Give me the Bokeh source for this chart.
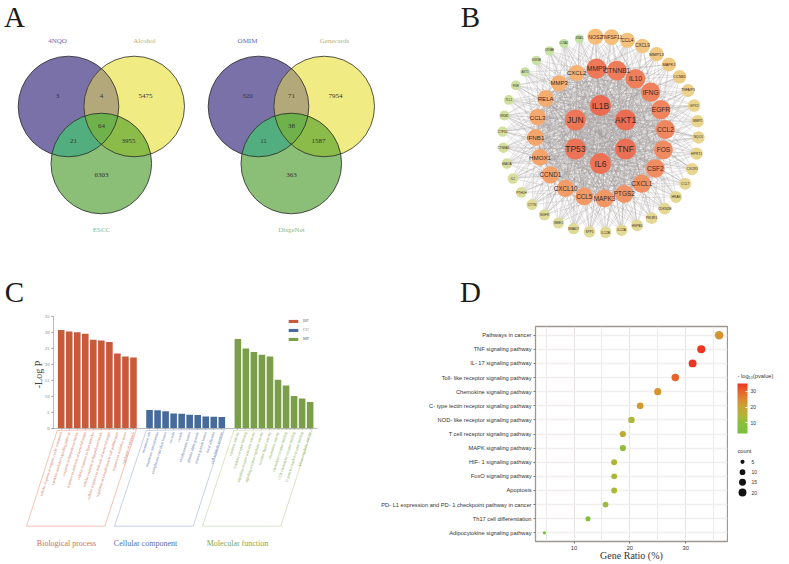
import math
from bokeh.plotting import figure
from bokeh.layouts import column, row
from bokeh.embed import file_html
from bokeh.resources import INLINE
from bokeh.core.properties import value, field
from bokeh.models import (Range1d, FactorRange, LinearAxis, FixedTicker, Legend, LegendItem,
                          ColorBar, LinearColorMapper, ColumnDataSource)
from bokeh.transform import transform

# ---------- Panel A data ----------
venn_left_sets = ["4NQO", "Alcohol", "ESCC"]
venn_left_counts = [3, 4, 5475, 64, 21, 3955, 6303]
venn_right_sets = ["OMIM", "Genecards", "DisgeNet"]
venn_right_counts = [320, 71, 7954, 38, 11, 1587, 363]

# ---------- Panel B data (degree-sorted circular layout, clockwise) ----------
net_inner = ["IL1B", "AKT1", "TNF", "IL6", "TP53", "JUN"]
net_middle = ["MMP9", "CTNNB1", "IL10", "IFNG", "EGFR", "CCL2", "FOS", "CSF2", "CXCL1", "PTGS2",
              "MAPK3", "CCL5", "CXCL10", "CCND1", "HMOX1", "IFNB1", "CCL3", "RELA", "MMP3", "CXCL2"]
net_outer = ["NOS2", "TNFSF11", "CCL4", "CXCL9", "MMP13", "MAPK1", "CCNB1", "TNFAIP3", "GPX2", "MMP2",
             "NQO1", "HPRT1", "CXCR3", "CCL7", "HRAS", "CDKN2B", "PIK3R1", "HSPB1", "IL12A", "IL12B",
             "SPP1", "SMAD7", "WEE1", "NGFR", "CTTN", "PTHLH", "IL2", "MAOA", "CTNNA1", "CTPS1",
             "RRM2", "TLL1", "PGR", "AKT3", "GSK3B", "CRYAB", "CCNA2", "SNAI1"]

# ---------- Panel C data ----------
bp_terms = ["cellular response to organic cyclic compound", "cytokine-mediated signaling pathway",
            "response to lipopolysaccharide", "response to molecule of bacterial origin",
            "cellular response to lipid stimulus", "cellular response to lipopolysaccharide",
            "cellular response to molecule of bacterial origin", "regulation of smooth muscle cell proliferation",
            "response to oxidative stress", "regulation of apoptosis"]
bp_values = [30.8, 30.3, 30.1, 29.6, 27.7, 27.5, 27.0, 23.4, 22.5, 22.2]
cc_terms = ["membrane raft", "membrane microdomain", "endoplasmic reticulum lumen", "caveola", "vesicle",
            "endolysosome lumen", "platelet alpha granule", "tertiary granule lumen", "focal adhesion",
            "cell-substrate junction"]
cc_values = [5.7, 5.6, 5.3, 4.6, 4.5, 4.2, 4.1, 3.7, 3.6, 3.5]
mf_terms = ["cytokine activity", "cytokine receptor binding", "signaling receptor activator activity",
            "signaling receptor regulator activity", "receptor ligand activity", "chemokine activity",
            "chemokine receptor binding", "CCR chemokine receptor binding", "G protein-coupled receptor binding",
            "kinase regulator activity"]
mf_values = [28.0, 25.0, 23.9, 23.0, 22.5, 15.2, 13.4, 10.1, 9.3, 8.2]
c_ticks = [0, 5, 10, 15, 20, 25, 30, 35]

# ---------- Panel D data ----------
pathways = ["Pathways in cancer", "TNF signaling pathway", "IL- 17 signaling pathway",
            "Toll- like receptor signaling pathway", "Chemokine signaling pathway",
            "C- type lectin receptor signaling pathway", "NOD- like receptor signaling pathway",
            "T cell receptor signaling pathway", "MAPK signaling pathway", "HIF- 1 signaling pathway",
            "FoxO signaling pathway", "Apoptosis", "PD- L1 expression and PD- 1 checkpoint pathway in cancer",
            "Th17 cell differentiation", "Adipocytokine signaling pathway"]
gene_ratio = [36.0, 32.8, 31.25, 28.15, 25.0, 21.85, 20.3, 18.75, 18.75, 17.2, 17.2, 17.2, 15.65, 12.5, 4.7]
gene_count = [23, 21, 20, 18, 16, 14, 13, 12, 12, 11, 11, 11, 10, 8, 3]
neg_log_p = [23, 35, 35, 30, 23, 22, 14, 18, 11, 15, 14, 14, 12, 7, 4]
count_legend = [5, 10, 15, 20]
pvalue_ticks = [10, 20, 30]

SERIF = "Liberation Serif"
SANS = "Liberation Sans"
SPLIT = 310


def blank(w, h, xr, yr):
    p = figure(width=w, height=h, x_range=Range1d(*xr), y_range=Range1d(*yr), x_axis_type=None, y_axis_type=None,
               output_backend="svg", toolbar_location=None, min_border=0, outline_line_color=None,
               background_fill_color="white", border_fill_color="white", frame_align=False)
    p.grid.visible = False
    return p


def letter(p, s, x, y):
    p.text(x=[x], y=[y], text=[s], text_font=value(SERIF), text_font_size="29px", text_color="#1a1a1a",
           text_align="center", text_baseline="middle")


def lerp_hex(stops, t):
    for (t0, c0), (t1, c1) in zip(stops, stops[1:]):
        if t <= t1:
            f = (t - t0) / (t1 - t0) if t1 > t0 else 0
            a = [int(c0[i:i + 2], 16) for i in (1, 3, 5)]
            b = [int(c1[i:i + 2], 16) for i in (1, 3, 5)]
            return "#%02x%02x%02x" % tuple(round(u + (v - u) * f) for u, v in zip(a, b))
    return stops[-1][1]


def lerp_num(stops, t):
    for (t0, v0), (t1, v1) in zip(stops, stops[1:]):
        if t <= t1:
            return v0 + (v1 - v0) * (t - t0) / (t1 - t0)
    return stops[-1][1]


# ========== A ==========
pA = blank(400, SPLIT, (0, 400), (SPLIT, 0))


def region(circles):
    pts = []
    for i, (cx, cy, r) in enumerate(circles):
        for k in range(1440):
            a = 2 * math.pi * k / 1440
            x, y = cx + r * math.cos(a), cy + r * math.sin(a)
            if all((x - u) ** 2 + (y - v) ** 2 <= w ** 2 + 1e-6 for j, (u, v, w) in enumerate(circles) if j != i):
                pts.append((x, y))
    mx = sum(q[0] for q in pts) / len(pts)
    my = sum(q[1] for q in pts) / len(pts)
    pts.sort(key=lambda q: math.atan2(q[1] - my, q[0] - mx))
    return [q[0] for q in pts], [q[1] for q in pts]


def venn(p, dx, names, counts):
    P, Y, G = (68 + dx, 106, 50.3), (133.7 + dx, 106, 50.3), (100.8 + dx, 163, 50.3)
    for c, col in ((P, "#7b71a9"), (Y, "#f0ec83"), (G, "#8bbf78")):
        p.circle(x=[c[0]], y=[c[1]], radius=c[2], fill_color=col, line_color=None)
    for cs, col in (((P, Y), "#b3a879"), ((P, G), "#52ae7e"), ((Y, G), "#8bbb48"), ((P, Y, G), "#6fb24c")):
        xs, ys = region(list(cs))
        p.patch(xs, ys, fill_color=col, line_color=None)
    for c in (P, Y, G):
        p.circle(x=[c[0]], y=[c[1]], radius=c[2], fill_color=None, line_color="#2a2a2a", line_width=0.8)
    tx = [57 + dx, 101 + dx, 145 + dx, 101 + dx, 73 + dx, 128 + dx, 101 + dx]
    ty = [95, 95, 95, 125, 140, 140, 174]
    p.text(x=tx, y=ty, text=[str(v) for v in counts], text_font=value(SERIF), text_font_size="7px",
           text_color="#333333", text_align="center", text_baseline="middle")
    for name, x, y, col in zip(names, (57 + dx, 144 + dx, 101 + dx), (40, 40, 229), ("#6f66a8", "#b5b07a", "#8db87d")):
        p.text(x=[x], y=[y], text=[name], text_font=value(SERIF), text_font_size="7px", text_color=col,
               text_align="center", text_baseline="middle")


venn(pA, 0, venn_left_sets, venn_left_counts)
venn(pA, 190, venn_right_sets, venn_right_counts)
letter(pA, "A", 14, 16)
letter(pA, "C", 14, 291)

# ========== B ==========
pB = blank(389, SPLIT, (400, 789), (SPLIT, 0))
nodes = []
for ring, cy, R, a0, names in ((0, 134, 29, 0, net_inner), (1, 133, 65, -3.5, net_middle), (2, 134, 98, -3, net_outer)):
    step = 360 / len(names)
    for i, n in enumerate(names):
        a = math.radians(a0 + step * i)
        nodes.append((n, 600 + R * math.sin(a), cy - R * math.cos(a), ring, i))
ex0, ey0, ex1, ey1 = [], [], [], []
core = [n for n in nodes if n[3] < 2]
for i, a in enumerate(core):
    for b in core[i + 1:]:
        ex0.append(a[1]); ey0.append(a[2]); ex1.append(b[1]); ey1.append(b[2])
for a in (n for n in nodes if n[3] == 2):
    for j, b in enumerate(core):
        if b[3] == 0 or (a[4] + j) % 3 == 0:
            ex0.append(a[1]); ey0.append(a[2]); ex1.append(b[1]); ey1.append(b[2])
pB.segment(ex0, ey0, ex1, ey1, line_color="#a09898", line_alpha=0.6, line_width=0.45)

colour_stops = [(0, "#ea6a52"), (6, "#ee7858"), (25, "#f5b272"), (26, "#f6bc78"), (34, "#ebd48c"),
                (50, "#dddc9a"), (63, "#c3e3a5")]
size_stops = [(0, 10.5), (5, 10.5), (6, 10), (25, 8), (26, 8), (34, 6.3), (50, 5.5), (63, 4.5)]
font_stops = [(0, 8.5), (5, 8.5), (6, 6.8), (25, 6.0), (26, 5.2), (30, 4.2), (33, 3.4), (50, 3.2), (63, 2.6)]

rank = range(len(nodes))
net_src = ColumnDataSource(dict(
    name=[n[0] for n in nodes], x=[n[1] for n in nodes], y=[n[2] for n in nodes],
    r=[lerp_num(size_stops, t) for t in rank], col=[lerp_hex(colour_stops, t) for t in rank],
    fs=["%.1fpx" % lerp_num(font_stops, t) for t in rank]))
pB.circle(x="x", y="y", radius="r", fill_color="col", line_color=None, source=net_src)
pB.text(x="x", y="y", text="name", text_font=value(SANS), text_font_size=field("fs"), text_color="#3a2a25",
        text_align="center", text_baseline="middle", source=net_src)
letter(pB, "B", 470, 16)
letter(pB, "D", 470, 291)

# ========== C ==========
C_X0, C_DX, C_Y0, C_DY = 60.7, 8.03, 427.7, 3.19


def kx(px):
    return (px - C_X0) / C_DX


def vy(py):
    return (C_Y0 - py) / C_DY


pC = blank(340, 564 - SPLIT, (kx(0), kx(340)), (vy(564), vy(SPLIT)))
groups = (("BP", bp_terms, bp_values, 0, "#c75b39", "#f0ab95", "Biological process", "#d0705a",
           [(26, 525.7), (104.3, 525.7), (136, 428.5), (56.7, 430)], 66),
          ("CC", cc_terms, cc_values, 11, "#456a9e", "#aebce0", "Cellular component", "#5570a8",
           [(114, 525.7), (192.7, 525.7), (224, 428.5), (145.7, 430)], 145),
          ("MF", mf_terms, mf_values, 22, "#7a9e4a", "#cbdaae", "Molecular function", "#80a850",
           [(202, 525.7), (280.3, 525.7), (311.7, 428.5), (233.3, 430)], 237))
items = []
for name, terms, vals, off, col, edge, title, tcol, quad, tx in groups:
    xs = [off + i for i in range(len(vals))]
    r = pC.vbar(x=xs, top=vals, width=0.82, bottom=0, fill_color=col, line_color=None)
    items.append(LegendItem(label=name, renderers=[r]))
    pC.patch([kx(q[0]) for q in quad], [vy(q[1]) for q in quad], fill_color=None, line_color=edge, line_width=0.7)
    pC.text(x=[kx(tx)], y=[vy(543.3)], text=[title], text_font=value(SERIF), text_font_size="8px", text_color=tcol,
            text_align="center", text_baseline="middle")
    ax = LinearAxis(fixed_location=0, ticker=FixedTicker(ticks=xs), bounds=(kx(53), kx(317)) if off == 0 else (xs[0], xs[-1]),
                    major_label_overrides={x: t for x, t in zip(xs, terms)}, major_label_orientation=1.27,
                    major_label_text_font=SERIF, major_label_text_font_size="3.7px", major_label_text_color=tcol,
                    major_label_standoff=3, major_tick_out=1, major_tick_in=0, minor_tick_line_color=None,
                    major_tick_line_color="#999999", axis_line_color="#aaaaaa" if off == 0 else None, axis_line_width=0.8)
    pC.add_layout(ax, "below")
yax = LinearAxis(fixed_location=kx(53), ticker=FixedTicker(ticks=c_ticks), bounds=(0, 35),
                 major_label_text_font=SERIF, major_label_text_font_size="4.7px", major_label_text_color="#777777",
                 major_label_standoff=2, major_tick_out=2, major_tick_in=0, minor_tick_line_color=None,
                 major_tick_line_color="#999999", axis_line_color="#aaaaaa", axis_line_width=0.8)
pC.add_layout(yax, "left")
pC.text(x=[kx(38)], y=[vy(374)], text=["-Log P"], angle=math.pi / 2, text_font=value(SERIF), text_font_size="10px",
        text_color="#444444", text_align="center", text_baseline="middle")
pC.add_layout(Legend(items=items, location=(287, 223), glyph_width=12, glyph_height=4, label_height=4, label_width=10,
                     spacing=4, padding=0, margin=0, label_standoff=4, border_line_color=None, background_fill_alpha=0,
                     label_text_font=SERIF, label_text_font_size="4.5px", label_text_color="#666666"))

# ========== D ==========
pal_stops = [(3.4, "#78be3c"), (10, "#8cbf3a"), (14, "#abb83a"), (20, "#c8a434"), (25, "#dc8830"),
             (30, "#e86428"), (34.8, "#ee3524")]
palette = [lerp_hex(pal_stops, 3.4 + (34.8 - 3.4) * i / 127) for i in range(128)]
mapper = LinearColorMapper(palette=palette, low=3.4, high=34.8)


def dot(c):
    return 3.3 + 1.69 * (math.sqrt(c) - math.sqrt(3))


pD = figure(width=388, height=564 - SPLIT, x_range=Range1d(3.1, 37.5),
            y_range=FactorRange(factors=pathways[::-1], range_padding=0.015),
            output_backend="svg", toolbar_location=None, min_border=0, min_border_left=195, min_border_right=1,
            min_border_top=326 - SPLIT, min_border_bottom=23, outline_line_color="#a09890", outline_line_width=1.3,
            background_fill_color="white", border_fill_color="white", frame_align=False)
pD.xaxis.ticker = FixedTicker(ticks=[10, 20, 30], minor_ticks=[5, 15, 25, 35])
pD.xgrid.grid_line_color = "#e6e1e1"
pD.xgrid.grid_line_width = 0.9
pD.xgrid.minor_grid_line_color = "#ebe7e7"
pD.xgrid.minor_grid_line_width = 0.9
pD.ygrid.grid_line_color = "#f2eeee"
pD.ygrid.grid_line_width = 1.5
for ax in (pD.xaxis[0], pD.yaxis[0]):
    ax.axis_line_color = None
    ax.major_tick_line_color = "#444444"
    ax.major_tick_out = 2
    ax.major_tick_in = 0
    ax.major_tick_line_width = 0.7
    ax.minor_tick_line_color = None
    ax.major_label_text_font = SANS
    ax.major_label_text_font_size = "5.7px"
    ax.major_label_text_color = "#333333"
    ax.major_label_standoff = 2
pD.xaxis.major_label_standoff = 0
pD.xaxis.axis_label = "Gene Ratio (%)"
pD.xaxis.axis_label_text_font = SERIF
pD.xaxis.axis_label_text_font_size = "10px"
pD.xaxis.axis_label_text_font_style = "normal"
pD.xaxis.axis_label_text_color = "#333333"
pD.xaxis.axis_label_standoff = -3
pD_src = ColumnDataSource(dict(x=gene_ratio, y=pathways, p=neg_log_p, s=[dot(c) for c in gene_count]))
pD.scatter(x="x", y="y", size="s", fill_color=transform("p", mapper), line_color=None, source=pD_src)

# ========== D legends ==========
pL = blank(61, 564 - SPLIT, (728, 789), (564, SPLIT))
cb = ColorBar(color_mapper=mapper, location=(9, 131), width=10, height=50, ticker=FixedTicker(ticks=pvalue_ticks),
              orientation="vertical", padding=0, margin=0,
              major_label_text_font=SANS, major_label_text_font_size="5px", major_label_text_color="#333333",
              major_tick_line_color="white", major_tick_out=0, major_tick_in=2, bar_line_color=None,
              border_line_color=None, background_fill_alpha=0, label_standoff=3)
pL.add_layout(cb)
ys = [461.3, 471.7, 481.7, 492]
pL.text(x=[737, 737], y=[375, 450], text=["- log\u2081\u2080(pvalue)", "count"], text_font=value(SANS), text_font_size="5.7px",
        text_color="#333333", text_align="left", text_baseline="middle")
pL.scatter(x=[742] * 4, y=ys, size=[dot(c) for c in count_legend], fill_color="#111111", line_color=None)
pL.text(x=[751] * 4, y=ys, text=[str(c) for c in count_legend], text_font=value(SANS), text_font_size="5px",
        text_color="#333333", text_align="left", text_baseline="middle")

page = column(row(pA, pB, spacing=0), row(pC, pD, pL, spacing=0), spacing=0)
open("out.html", "w").write(file_html(page, INLINE))
